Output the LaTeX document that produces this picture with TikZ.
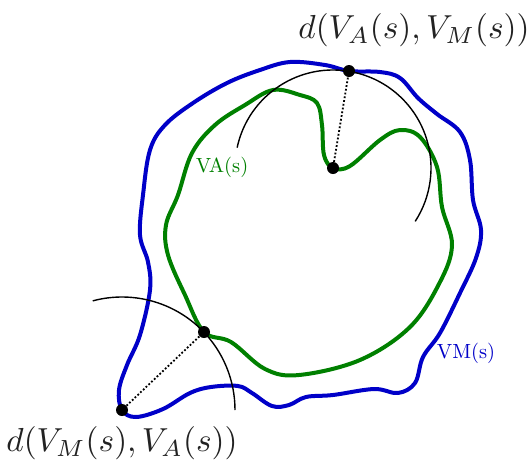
\documentclass[tikz,border=0pt]{standalone}
\usepackage{xcolor}
\usepackage{tikz}
\usetikzlibrary{calc}

\definecolor{vmblue}{RGB}{0,0,200}
\definecolor{vagreen}{RGB}{0,128,0}
\definecolor{inkgray}{RGB}{34,34,34}

\begin{document}
\begin{tikzpicture}[
    x=1pt, y=-1pt,
    vmline/.style={draw=vmblue, line width=4pt, line join=round},
    valine/.style={draw=vagreen, line width=4pt, line join=round},
    distarc/.style={draw=black, line width=1.4pt},
    distline/.style={draw=black, line width=1.8pt, dotted},
    dotnode/.style={circle, fill=black, inner sep=0pt, minimum size=12pt},
    biglabel/.style={text=inkgray, scale=3.33},
    curvelabel/.style={scale=2.05}
]
\useasboundingbox (0,0) rectangle (532,464);

% VM(s) contour
\draw[vmline] plot[smooth cycle, tension=0.6] coordinates {
    (122,410) (119,390) (127,365) (140,335) (150,290) (148,262) (140,235)
    (143,195) (150,150) (165,125) (193,103) (227,83) (260,70) (290,62)
    (325,65) (349,71) (380,72) (400,78) (418,98) (437,114) (460,132)
    (470,160) (473,200) (481,230) (476,258) (460,293) (440,333) (423,357)
    (415,383) (398,393) (374,389) (333,395) (306,397) (289,405) (272,406)
    (252,393) (238,386) (211,387) (190,393) (163,409) (136,417)};

% VA(s) contour
\draw[valine] plot[smooth cycle, tension=0.6] coordinates {
    (273,90) (300,95) (317,103) (322,125) (324,155) (333,168) (350,166)
    (380,140) (400,130) (420,137) (437,167) (442,207) (452,245) (440,282)
    (410,327) (360,360) (299,375) (265,369) (231,342) (204,332) (185,295)
    (168,255) (166,225) (178,195) (192,153) (215,125) (245,105)};

% points on the contours
\node[dotnode] (vadot) at (333,168) {};
\node[dotnode] (vmtop) at (349,71) {};
\node[dotnode] (vmdot) at (122,410) {};
\node[dotnode] (vaside) at (204,332) {};

% distance arcs
\draw[distarc] ([shift={(-168:98)}]vadot.center) arc[start angle=-168, end angle=33, radius=98];
\draw[distarc] ([shift={(-105:113)}]vmdot.center) arc[start angle=-105, end angle=0, radius=113];

% distances
\draw[distline] (vadot) -- (vmtop);
\draw[distline] (vmdot) -- (vaside);

% labels
\node[curvelabel, text=vagreen] (valabel) at (222,167) {VA(s)};
\node[curvelabel, text=vmblue] (vmlabel) at (466,353) {VM(s)};
\node[biglabel] (topdist) at (414,30) {$d(V_A(s),V_M(s))$};
\node[biglabel] (botdist) at (122,443) {$d(V_M(s),V_A(s))$};

\end{tikzpicture}
\end{document}
